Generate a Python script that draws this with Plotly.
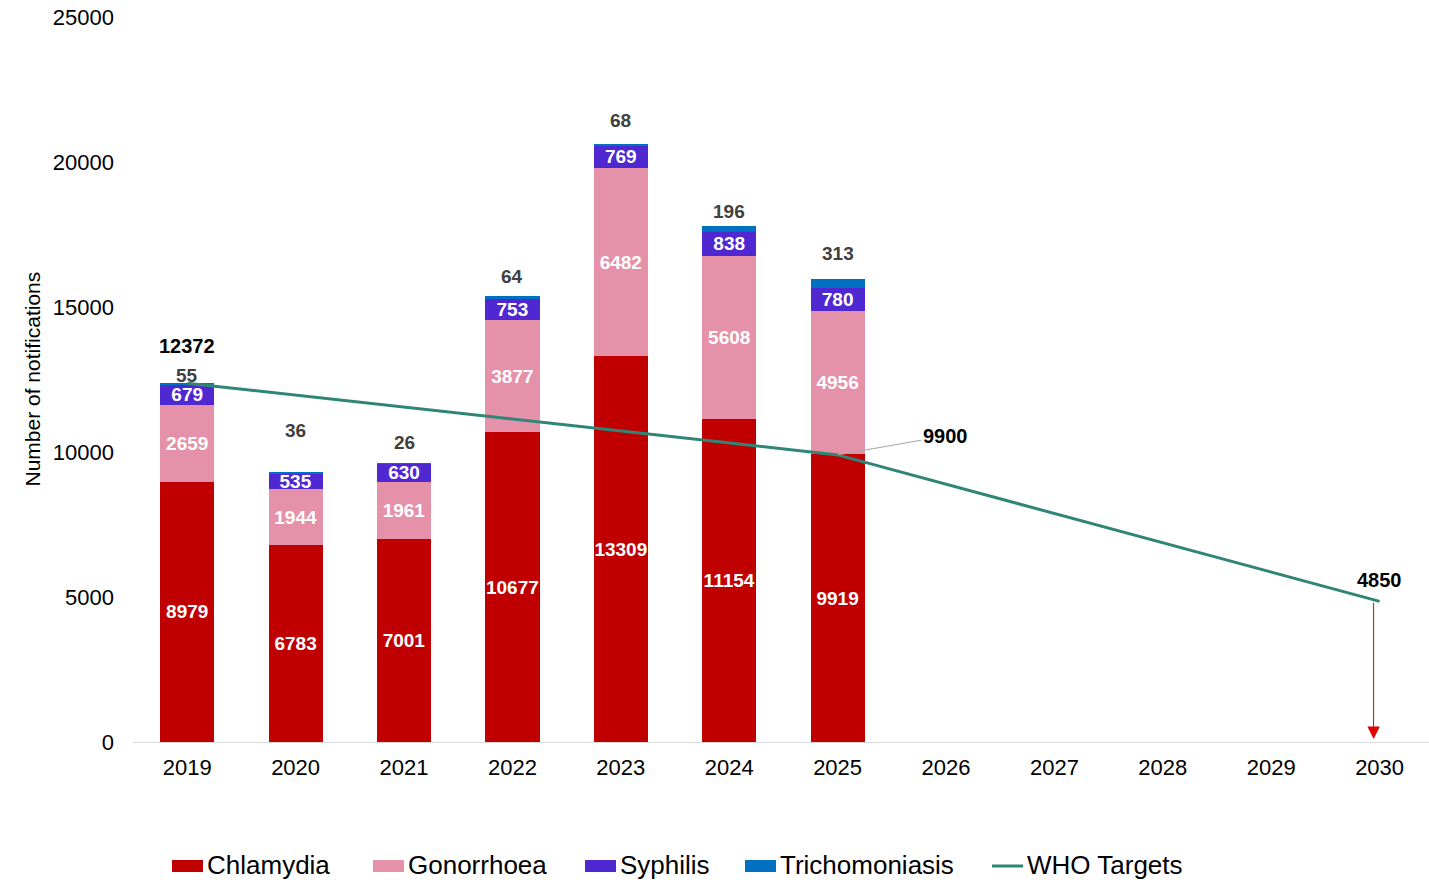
import plotly.graph_objects as go

years = ["2019", "2020", "2021", "2022", "2023", "2024", "2025",
         "2026", "2027", "2028", "2029", "2030"]
bar_years = years[:7]
chlamydia = [8979, 6783, 7001, 10677, 13309, 11154, 9919]
gonorrhoea = [2659, 1944, 1961, 3877, 6482, 5608, 4956]
syphilis = [679, 535, 630, 753, 769, 838, 780]
trichomoniasis = [55, 36, 26, 64, 68, 196, 313]
who_years = ["2019", "2025", "2030"]
who_targets = [12372, 9900, 4850]
y_ticks = [0, 5000, 10000, 15000, 20000, 25000]

# ---- styling constants (not data) ----
trich_label_shift = [8, 42, 21, 20, 23, 14, 25]   # px above bar top
FONT = "Liberation Sans, Arial, sans-serif"
C_CHL = "#C00000"
C_GON = "#E591A9"
C_SYP = "#5028D2"
C_TRI = "#0070C0"
C_WHO = "#2F8676"

# figure geometry (body margin removed by post_script)
W, H = 1429, 882
ML, MT, MB = 133, 17, 140
PW, PH = W - ML, H - MT - MB

def px_to_paper_x(sx):
    return (sx - ML) / PW

def px_to_paper_y(sy):
    return (MT + PH - sy) / PH

idx = {y: i for i, y in enumerate(years)}

fig = go.Figure()

def bar(name, vals, color, show_text=True):
    return go.Bar(
        name=name, x=bar_years, y=vals, marker=dict(color=color, line=dict(width=0)),
        text=vals if show_text else None,
        texttemplate="%{text}" if show_text else None,
        textposition="inside" if show_text else "none",
        insidetextanchor="middle", textangle=0, constraintext="none",
        textfont=dict(family=FONT, size=19, color="white", weight="bold"),
        showlegend=False,
    )

series = [("Chlamydia", chlamydia, C_CHL, True), ("Gonorrhoea", gonorrhoea, C_GON, True),
          ("Syphilis", syphilis, C_SYP, True), ("Trichomoniasis", trichomoniasis, C_TRI, False)]
for name, vals, col, st in series:
    fig.add_trace(bar(name, vals, col, st))
fig.add_trace(go.Scatter(name="WHO Targets", x=who_years, y=who_targets, mode="lines",
                         line=dict(color=C_WHO, width=3), showlegend=False))

totals = [a + b + c + d for a, b, c, d in zip(chlamydia, gonorrhoea, syphilis, trichomoniasis)]

annotations = []
for yr, tot, v, s in zip(bar_years, totals, trichomoniasis, trich_label_shift):
    annotations.append(dict(x=idx[yr], y=tot, text=str(v), showarrow=False, yanchor="middle",
                            yshift=s, font=dict(family=FONT, size=19, color="#404040", weight="bold")))

# total label for 2019 (start of target line)
annotations.append(dict(x=idx[who_years[0]], y=who_targets[0], text=str(who_targets[0]), showarrow=False,
                        yanchor="middle", yshift=37,
                        font=dict(family=FONT, size=20, color="black", weight="bold")))
# 2025 target with leader line
annotations.append(dict(x=idx[who_years[1]], y=who_targets[1], text=str(who_targets[1]), showarrow=True,
                        arrowhead=0, arrowwidth=1, arrowcolor="#A6A6A6", ax=108, ay=-19,
                        font=dict(family=FONT, size=20, color="black", weight="bold")))
# 2030 target
annotations.append(dict(x=idx[who_years[2]], y=who_targets[2], text=str(who_targets[2]), showarrow=False,
                        yanchor="middle", yshift=21,
                        font=dict(family=FONT, size=20, color="black", weight="bold")))
# red arrow down to zero
annotations.append(dict(x=idx[who_years[2]], y=0, ax=idx[who_years[2]], ay=who_targets[2],
                        axref="x", ayref="y", xref="x", yref="y", text="", showarrow=True,
                        arrowhead=2, arrowsize=2.5, arrowwidth=1, arrowcolor="#E00000",
                        standoff=3, xshift=-6))
# y-axis title
annotations.append(dict(xref="paper", yref="paper", x=px_to_paper_x(32), y=0.5,
                        text="Number of notifications", textangle=-90, showarrow=False,
                        xanchor="center", yanchor="middle",
                        font=dict(family=FONT, size=21, color="black")))

# ---- custom legend (wide swatches like the original) ----
legend_items = [("Chlamydia", C_CHL, "box", 172), ("Gonorrhoea", C_GON, "box", 373),
                ("Syphilis", C_SYP, "box", 585), ("Trichomoniasis", C_TRI, "box", 745),
                ("WHO Targets", C_WHO, "line", 992)]
shapes = []
ly = 865
for name, col, kind, sx in legend_items:
    x0, x1 = px_to_paper_x(sx), px_to_paper_x(sx + 31)
    if kind == "box":
        shapes.append(dict(type="rect", xref="paper", yref="paper", x0=x0, x1=x1,
                           y0=px_to_paper_y(ly + 7), y1=px_to_paper_y(ly - 5),
                           fillcolor=col, line=dict(width=0)))
    else:
        shapes.append(dict(type="line", xref="paper", yref="paper", x0=x0, x1=x1,
                           y0=px_to_paper_y(ly + 1), y1=px_to_paper_y(ly + 1),
                           line=dict(color=col, width=3)))
    annotations.append(dict(xref="paper", yref="paper", x=px_to_paper_x(sx + 33), y=px_to_paper_y(ly),
                            xanchor="left", yanchor="middle", text=name, showarrow=False,
                            font=dict(family=FONT, size=26, color="black")))

fig.update_layout(
    width=W, height=H,
    margin=dict(l=ML, r=0, t=MT, b=MB, autoexpand=False),
    barmode="stack", bargap=0.5,
    plot_bgcolor="white", paper_bgcolor="white",
    font=dict(family=FONT, color="black"),
    showlegend=False,
    annotations=annotations,
    shapes=shapes,
    xaxis=dict(type="category", categoryorder="array", categoryarray=years,
               range=[-0.5, -0.5 + PW / 108.4], showline=True, linecolor="#D9D9D9", linewidth=1,
               showgrid=False, ticks="", tickfont=dict(family=FONT, size=22, color="black"),
               ticklabelstandoff=6, fixedrange=True),
    yaxis=dict(range=[0, 25000], tickvals=y_ticks, ticktext=[str(v) for v in y_ticks],
               showgrid=False, zeroline=False, showline=False, ticks="",
               tickfont=dict(family=FONT, size=22, color="black"), ticklabelstandoff=18,
               ticklabeloverflow="allow", fixedrange=True),
)

fig.write_html("out.html", config={"displayModeBar": False},
               post_script="document.body.style.margin='0';document.body.style.overflow='hidden';")
